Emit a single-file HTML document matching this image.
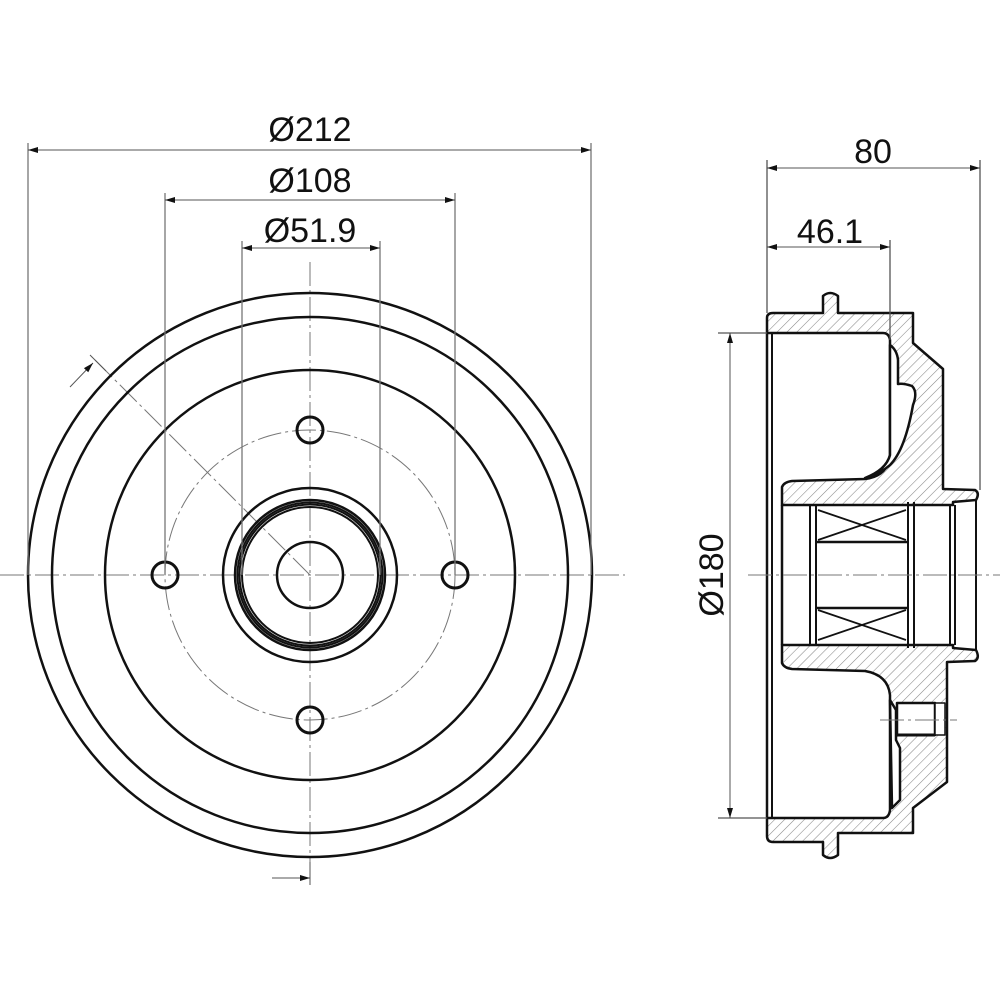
<!DOCTYPE html>
<html><head><meta charset="utf-8"><style>
html,body{margin:0;padding:0;background:#fff;}
svg{display:block;}
text{font-family:"Liberation Sans",Arial,sans-serif;fill:#111;}
</style></head><body>
<svg width="1000" height="1000" viewBox="0 0 1000 1000" xmlns="http://www.w3.org/2000/svg">
<defs>
<pattern id="h" width="7" height="7" patternUnits="userSpaceOnUse" patternTransform="rotate(45)">
<line x1="0" y1="0" x2="0" y2="7" stroke="#888" stroke-width="1.1"/>
</pattern>
<marker id="a" viewBox="0 0 10 6" refX="10" refY="3" markerWidth="16" markerHeight="6" orient="auto-start-reverse" markerUnits="userSpaceOnUse">
<path d="M0,0 L10,3 L0,6 Z" fill="#111"/>
</marker>
</defs>

<g fill="none" stroke="#111">
<g stroke="#777" stroke-width="1" stroke-dasharray="24,4,3,4">
<line x1="0" y1="575" x2="625" y2="575"/>
<line x1="310" y1="262" x2="310" y2="885"/>
<line x1="310" y1="575" x2="92" y2="357"/>
<circle cx="310" cy="575" r="145"/>
</g>
<circle cx="310" cy="575" r="282" stroke-width="2.5"/>
<circle cx="310" cy="575" r="258" stroke-width="2.5"/>
<circle cx="310" cy="575" r="205" stroke-width="2.5"/>
<circle cx="310" cy="575" r="87" stroke-width="2.5"/>
<circle cx="310" cy="575" r="75" stroke-width="2.5"/>
<circle cx="310" cy="575" r="72.5" stroke-width="2"/>
<circle cx="310" cy="575" r="70.5" stroke-width="2"/>
<circle cx="310" cy="575" r="68" stroke-width="2"/>
<circle cx="310" cy="575" r="33" stroke-width="2.5"/>
<circle cx="310" cy="430" r="13" stroke-width="3"/>
<circle cx="310" cy="720" r="13" stroke-width="3"/>
<circle cx="165" cy="575" r="13" stroke-width="3"/>
<circle cx="455" cy="575" r="13" stroke-width="3"/>
<g stroke="#777" stroke-width="1.3">
<line x1="28" y1="143" x2="28" y2="575"/>
<line x1="591" y1="143" x2="591" y2="575"/>
<line x1="165" y1="193" x2="165" y2="575"/>
<line x1="455" y1="193" x2="455" y2="575"/>
<line x1="242" y1="241" x2="242" y2="575"/>
<line x1="380" y1="241" x2="380" y2="575"/>
</g>
<g stroke="#555" stroke-width="1">
<line x1="28" y1="150" x2="591" y2="150" marker-start="url(#a)" marker-end="url(#a)"/>
<line x1="165" y1="200" x2="455" y2="200" marker-start="url(#a)" marker-end="url(#a)"/>
<line x1="242" y1="248" x2="380" y2="248" marker-start="url(#a)" marker-end="url(#a)"/>
<line x1="90" y1="355" x2="106" y2="371"/>
<line x1="70" y1="387" x2="93" y2="363" marker-end="url(#a)"/>
<line x1="310" y1="862" x2="310" y2="885"/>
<line x1="272" y1="878" x2="310" y2="878" marker-end="url(#a)"/>
</g>
</g>
<text x="310" y="141" font-size="34" text-anchor="middle">Ø212</text>
<text x="310" y="192" font-size="34" text-anchor="middle">Ø108</text>
<text x="310" y="242" font-size="34" text-anchor="middle">Ø51.9</text>

<g stroke="#111" stroke-width="2.5" stroke-linejoin="round">
<path fill="url(#h)" d="M767,318 Q767,313 773,313 L823,313 L823,296 Q830,290 838,296 L838,313 L913,313 L913,343 L943,369 L943,489 L975,490 Q980,493 976,500 L953,502 L953,505 L782,505 L782,487 Q784,482 792,481 L865,479 Q888,476 890,455 L890,340 Q889,333 883,333 L767,333 Z"/>
<path fill="#fff" d="M890,345 Q897,350 898,360 L898,384 Q903,383 912,386 Q918,392 913,405 Q905,450 890,465 Q880,474 865,478 Q886,470 890,455 Z"/>
<path fill="url(#h)" d="M767,836 Q767,842 773,842 L823,842 L823,855 Q830,861 838,855 L838,833 L913,833 L913,808 L947,782 L947,662 L975,661 Q980,658 976,650 L953,648 L953,645 L782,645 L782,663 Q784,668 792,669 L865,671 Q888,675 890,695 L890,810 Q889,818 883,818 L767,818 Z"/>
<path fill="#fff" d="M890,700 L896,710 L896,740 L900,748 L900,800 L892,808 Z"/>
<rect x="897" y="703" width="38" height="32" fill="#fff"/>
<rect x="935" y="703" width="10" height="32" fill="#fff" stroke-width="1.5"/>
<line x1="897" y1="735" x2="935" y2="735" stroke-width="3"/>
</g>
<g fill="none" stroke="#111" stroke-width="2.5">
<line x1="767" y1="333" x2="767" y2="818"/>
<line x1="772" y1="333" x2="772" y2="818" stroke-width="2"/>
<line x1="782" y1="505" x2="782" y2="645"/>
<line x1="810" y1="505" x2="810" y2="645" stroke-width="2"/>
<line x1="816" y1="505" x2="816" y2="645" stroke-width="2"/>
<line x1="908" y1="502" x2="908" y2="648" stroke-width="2"/>
<line x1="914" y1="502" x2="914" y2="648" stroke-width="2"/>
<line x1="950" y1="505" x2="950" y2="645" stroke-width="2"/>
<line x1="955" y1="505" x2="955" y2="645" stroke-width="2"/>
<line x1="976" y1="500" x2="976" y2="650" stroke-width="2"/>
<line x1="816" y1="542" x2="908" y2="542"/>
<line x1="816" y1="608" x2="908" y2="608"/>
<line x1="818" y1="510" x2="906" y2="540" stroke-width="1.8"/>
<line x1="818" y1="540" x2="906" y2="510" stroke-width="1.8"/>
<line x1="818" y1="610" x2="906" y2="640" stroke-width="1.8"/>
<line x1="818" y1="640" x2="906" y2="610" stroke-width="1.8"/>
</g>
<g stroke="#777" stroke-width="1" stroke-dasharray="24,4,3,4" fill="none">
<line x1="748" y1="575" x2="1000" y2="575"/>
<line x1="880" y1="720" x2="957" y2="720"/>
</g>
<g stroke="#555" stroke-width="1.3" fill="none">
<line x1="767" y1="160" x2="767" y2="313"/>
<line x1="980" y1="160" x2="980" y2="490"/>
<line x1="890" y1="240" x2="890" y2="340"/>
<line x1="718" y1="333" x2="767" y2="333"/>
<line x1="718" y1="818" x2="767" y2="818"/>
<line x1="767" y1="168" x2="980" y2="168" stroke-width="1" marker-start="url(#a)" marker-end="url(#a)"/>
<line x1="767" y1="247" x2="890" y2="247" stroke-width="1" marker-start="url(#a)" marker-end="url(#a)"/>
<line x1="730" y1="333" x2="730" y2="818" stroke-width="1" marker-start="url(#a)" marker-end="url(#a)"/>
</g>
<text x="873" y="163" font-size="34" text-anchor="middle">80</text>
<text x="830" y="243" font-size="34" text-anchor="middle">46.1</text>
<text x="0" y="0" font-size="34" text-anchor="middle" transform="translate(723,575) rotate(-90)">Ø180</text>
</svg>
</body></html>
